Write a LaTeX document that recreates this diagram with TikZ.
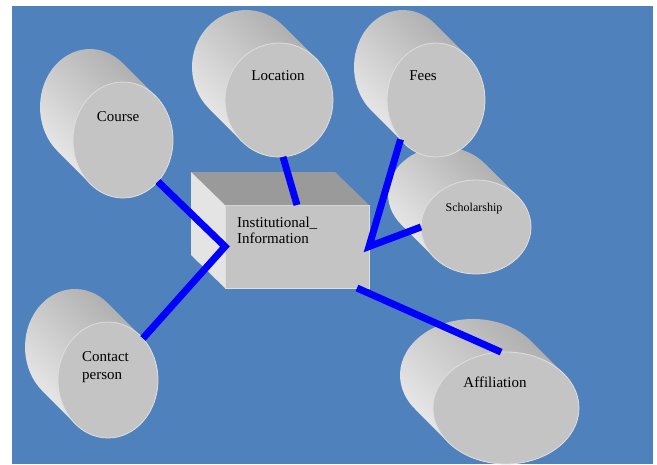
\documentclass[tikz,border=0pt]{standalone}
\usepackage{fontspec}
\setmainfont{Liberation Serif}
\usetikzlibrary{shapes.geometric,positioning}

\definecolor{slideblue}{HTML}{4F81BD}
\definecolor{facegray}{HTML}{C4C4C4}
\definecolor{topgray}{HTML}{9A9A9A}
\definecolor{sidegray}{HTML}{E4E4E4}
\definecolor{rimgray}{HTML}{DEDEDE}
\definecolor{linkblue}{HTML}{0000FF}

\tikzset{
  cylbody/.style = {top color=gray!70, bottom color=gray!12, shading angle=-45},
  cylface/.style = {ellipse, fill=facegray, draw=rimgray, line width=0.8pt,
                    inner sep=0pt, outer sep=0pt},
  cyltext/.style = {inner sep=0pt, font=\fontsize{15}{18}\selectfont},
  boxface/.style = {rectangle, fill=facegray, draw=rimgray, line width=0.6pt,
                    inner sep=0pt, outer sep=0pt},
  link/.style    = {draw=linkblue, line width=7pt}
}

\begin{document}
\begin{tikzpicture}[x=1pt, y=-1pt]
  \useasboundingbox (0,0) rectangle (657,464);
  \fill[white] (0,0) rectangle (657,464);
  \fill[slideblue] (12,6) rectangle (653,464);

  % cylinders, back to front
  \foreach \nm/\cx/\cy/\a/\b in {course/123/140/50/58, location/279/100/54/57,
      scholarship/476/227/55/47, fees/436/100/49/57,
      contact/108/380/50/58, affiliation/506/408/73/56} {
    \pgfmathsetmacro\ph{-atan(\b/\a)}
    \shade[cylbody] ({\cx-33+\a*cos(\ph+180)},{\cy-33+\b*sin(\ph+180)})
      arc[start angle=\ph+180, end angle=\ph+360, x radius=\a, y radius=\b]
      -- ++(33,33)
      arc[start angle=\ph, end angle=\ph+180, x radius=\a, y radius=\b] -- cycle;
    \node[cylface, minimum width=2*\a, minimum height=2*\b] (\nm) at (\cx,\cy) {};
  }

  \node[cyltext, anchor=base] (coursetext) at (118,121) {Course};
  \node[cyltext, anchor=base] (locationtext) at (278,80) {Location};
  \node[cyltext, anchor=base] (feestext) at (423,80) {Fees};
  \node[cyltext, anchor=base, font=\fontsize{12}{14}\selectfont] (scholarshiptext) at (474,211) {Scholarship};
  \node[cyltext, anchor=base] (affiliationtext) at (495,387) {Affiliation};
  \node[cyltext, anchor=north west, align=left] (contacttext) at (82,351) {Contact\\person};

  % the box
  \node[boxface, minimum width=144, minimum height=83] (info) at (297,246.5) {};
  \fill[topgray] (info.north west) -- ++(-34,-33) -- ([shift={(-34,-33)}]info.north east)
    -- (info.north east) -- cycle;
  \fill[sidegray] (info.north west) -- ++(-34,-33) -- ++(0,83) -- (info.south west) -- cycle;
  \node[cyltext, anchor=north west, align=left, font=\fontsize{15}{16}\selectfont]
    (infotext) at (237,217) {Institutional\_\\Information};

  % connectors
  \draw[link] (course.-50) -- (info.west) -- (contact.50);
  \draw[link] (location.-86) -- (info.north);
  \draw[link] (fees.-132) -- (info.east) -- (scholarship.180);
  \draw[link] ([xshift=-12pt]info.south east) -- (affiliation.95);
\end{tikzpicture}
\end{document}
